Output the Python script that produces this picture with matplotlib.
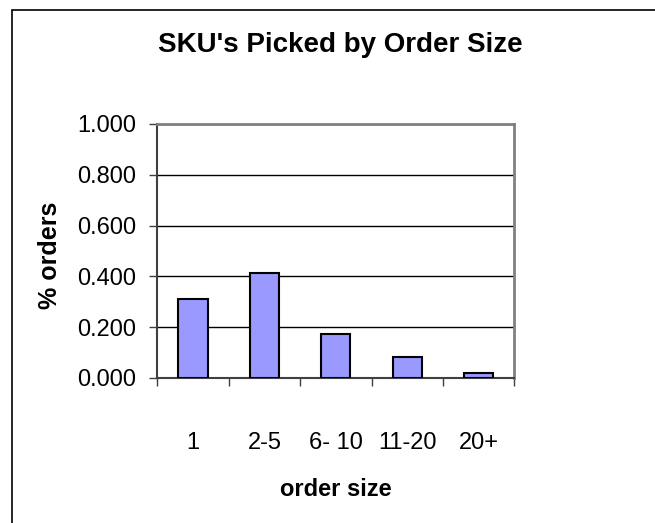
import matplotlib
matplotlib.use("Agg")
import matplotlib.pyplot as plt
from matplotlib.patches import Rectangle
import numpy as np

plt.rcParams["font.family"] = ["Liberation Sans", "DejaVu Sans"]

# data
categories = ["1", "2-5", "6- 10", "11-20", "20+"]
pct_orders = [0.310, 0.412, 0.174, 0.081, 0.020]
y_ticks = [0.0, 0.2, 0.4, 0.6, 0.8, 1.0]

W, H = 655, 523
AX_L, AX_R, AX_T, AX_B = 157.3, 514.3, 124, 378   # plot area in pixels
fig = plt.figure(figsize=(W / 100, H / 100), dpi=100)
ax = fig.add_axes([AX_L / W, 1 - AX_B / H, (AX_R - AX_L) / W, (AX_B - AX_T) / H])

x = np.arange(len(categories))
ax.bar(x, pct_orders, width=0.41, color="#9999FF", edgecolor="black",
       linewidth=1.5, zorder=3)

ax.set_xlim(-0.5, len(categories) - 0.5)
ax.set_ylim(0, 1.0)
ax.set_yticks(y_ticks)
ax.set_yticklabels([f"{v:.3f}" for v in y_ticks], fontsize=17)
ax.yaxis.grid(True, color="black", linewidth=1.0, zorder=0)
ax.set_axisbelow(True)

# category labels at centres, ticks at category boundaries
ax.set_xticks(x)
ax.set_xticklabels(categories, fontsize=17)
ax.tick_params(axis="x", which="major", length=0, pad=39)
ax.set_xticks(np.arange(len(categories) + 1) - 0.5, minor=True)
ax.tick_params(axis="x", which="minor", length=5.5, width=1, color="#404040")
ax.tick_params(axis="y", length=5.5, width=1, color="#404040", pad=10)

for side in ("top", "right"):
    ax.spines[side].set_color("#808080")
    ax.spines[side].set_linewidth(2)
for side in ("left", "bottom"):
    ax.spines[side].set_color("#404040")
    ax.spines[side].set_linewidth(1.5)

ax.set_xlabel("order size", fontsize=17, fontweight="bold", va="center")
ax.xaxis.set_label_coords(0.5, -(489.5 - AX_B) / (AX_B - AX_T))
ax.set_ylabel("% orders", fontsize=18, fontweight="bold", va="center")
ax.yaxis.set_label_coords(-(AX_L - 50) / (AX_R - AX_L), (AX_B - 255) / (AX_B - AX_T))

fig.text(340.5 / W, 1 - 52 / H, "SKU's Picked by Order Size", fontsize=20,
         fontweight="bold", ha="center", va="baseline")

# chart-area border (only left and top edges are visible in the crop)
fig.patches.append(Rectangle((12 / W, -0.1), 1.2, 1 - 10 / H + 0.1,
                             transform=fig.transFigure, fill=False,
                             edgecolor="black", linewidth=1.2))

fig.savefig("out.png", dpi=100)
